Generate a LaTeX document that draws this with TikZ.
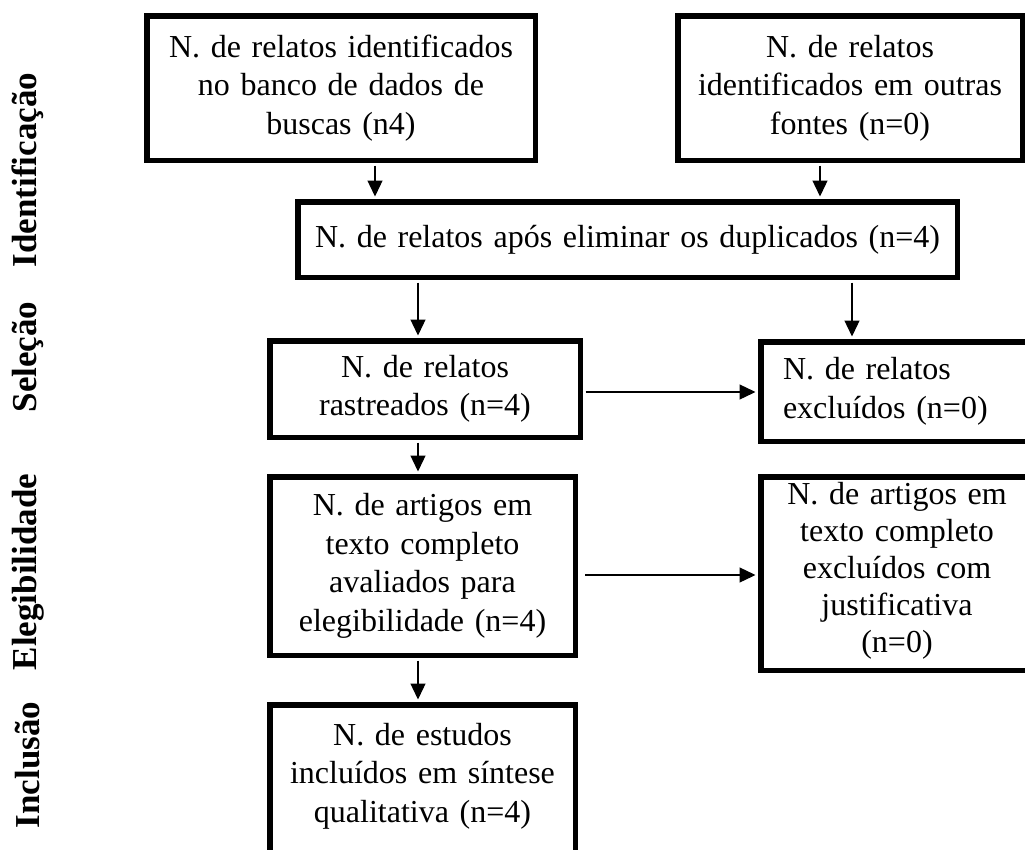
\documentclass[tikz,border=0pt]{standalone}
\usepackage{fontspec}
\setmainfont{Liberation Serif}
\usetikzlibrary{arrows.meta}
\begin{document}
\begin{tikzpicture}[x=1pt,y=-1pt,
  box/.style={draw, line width=5.5pt, inner sep=4pt, align=center,
    font=\fontsize{32}{38.5}\selectfont},
  boxtext/.style={inner sep=0pt, align=center, font=\fontsize{32}{38.5}\selectfont},
  arr/.style={-{Triangle[length=16pt,width=15pt]}, line width=1.3pt,
    shorten >=2.5pt, shorten <=2.5pt},
  side/.style={rotate=90, inner sep=0pt, font=\fontsize{35}{40}\selectfont\bfseries}]
\useasboundingbox (0,0) rectangle (1025,849);
\clip (0,0) rectangle (1025,849);

% boxes
\node[box, minimum width=388.5pt, minimum height=144.5pt, text width=380pt] (b1) at (341,88)
  {N. de relatos identificados\\no banco de dados de\\buscas (n4)};
\node[box, minimum width=344.5pt, minimum height=144.5pt, text width=336pt] (b2) at (850,88)
  {N. de relatos\\identificados em outras\\fontes (n=0)};
\node[box, minimum width=659.5pt, minimum height=75.5pt, text width=651pt] (b3) at (627.5,239.5)
  {N. de relatos após eliminar os duplicados (n=4)};
\node[box, minimum width=310.5pt, minimum height=96.5pt, text width=302pt] (b4) at (425,389)
  {N. de relatos\\rastreados (n=4)};
\node[box, align=left, inner xsep=22pt, minimum width=272.5pt, minimum height=99.5pt, text width=228pt] (b4r) at (897,391.5)
  {N. de relatos\\excluídos (n=0)};
\node[box, minimum width=305.5pt, minimum height=178.5pt, text width=297pt] (b5) at (422.5,566)
  {N. de artigos em\\texto completo\\avaliados para\\elegibilidade (n=4)};
\node[box, minimum width=272.5pt, minimum height=193.5pt] (b5r) at (897,573.5) {};
\node[boxtext, text width=264pt, font=\fontsize{32}{37}\selectfont] (b5rt) at (897,571)
  {N. de artigos em\\texto completo\\excluídos com\\justificativa\\(n=0)};
\node[box, minimum width=305.5pt, minimum height=172.5pt] (b6) at (422.5,791) {};
\node[boxtext, text width=297pt] (b6t) at (422.5,776)
  {N. de estudos\\incluídos em síntese\\qualitativa (n=4)};

% arrow columns
\coordinate (xa) at (375,0);
\coordinate (xb) at (820,0);
\coordinate (xc) at (418,0);
\coordinate (xd) at (852,0);
\coordinate (ya) at (0,392);
\coordinate (yb) at (0,575);

\draw[arr] (xa |- b1.south) -- (xa |- b3.north);
\draw[arr] (xb |- b2.south) -- (xb |- b3.north);
\draw[arr] (xc |- b3.south) -- (xc |- b4.north);
\draw[arr] (xd |- b3.south) -- (xd |- b4r.north);
\draw[arr] (b4.east |- ya) -- (b4r.west |- ya);
\draw[arr] (xc |- b4.south) -- (xc |- b5.north);
\draw[arr, shorten <=7pt] (b5.east |- yb) -- (b5r.west |- yb);
\draw[arr] (xc |- b5.south) -- (xc |- b6.north);

% side labels
\node[side] (lid) at (28,170) {Identificação};
\node[side] (lsel) at (28,357) {Seleção};
\node[side] (lel) at (28,572) {Elegibilidade};
\node[side] (lin) at (28,765) {Inclusão};
\end{tikzpicture}
\end{document}
